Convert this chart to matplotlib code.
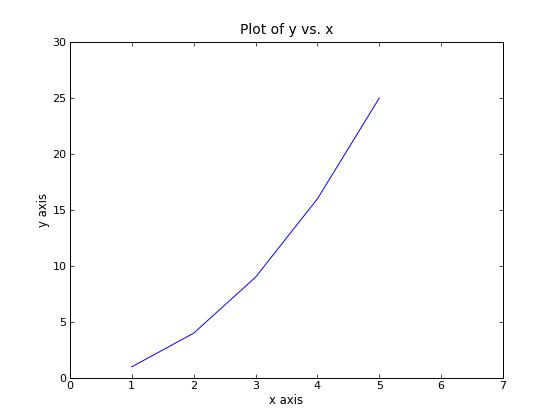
import matplotlib
matplotlib.use("Agg")
import matplotlib.pyplot as plt

x = [1, 2, 3, 4, 5]
y = [1, 4, 9, 16, 25]

plt.rcParams['font.family'] = 'DejaVu Sans'
plt.rcParams['font.size'] = 8.4

fig = plt.figure(figsize=(5.59, 4.2), dpi=100)
ax = fig.add_axes([0.125, 0.1, 0.775, 0.8])
ax.plot(x, y, color='#0000ff', linewidth=0.7)
ax.set_xlim(0, 7)
ax.set_ylim(0, 30)
ax.set_title('Plot of y vs. x', fontsize=10)
ax.set_xlabel('x axis', labelpad=1.5)
ax.set_ylabel('y axis', labelpad=1.5)
ax.tick_params(direction='in', top=True, right=True, length=2.8, width=0.5,
               pad=2.5, labelsize=8)
for s in ax.spines.values():
    s.set_linewidth(0.7)

fig.savefig('out.png', dpi=100)
